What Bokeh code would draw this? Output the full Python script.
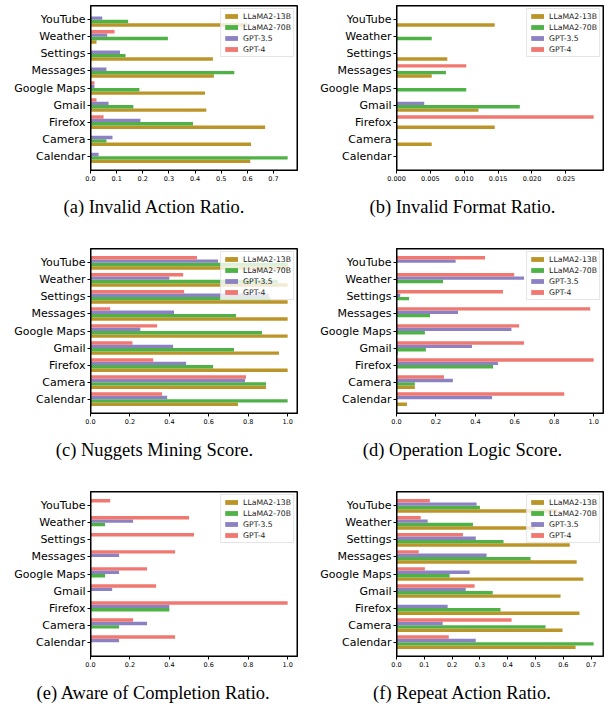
from bokeh.plotting import figure
from bokeh.models import (Range1d, FixedTicker, PrintfTickFormatter,
                          Legend, LegendItem, Title, ColumnDataSource)
from bokeh.layouts import gridplot
from bokeh.embed import file_html
from bokeh.resources import INLINE

apps = ["YouTube", "Weather", "Settings", "Messages", "Google Maps",
        "Gmail", "Firefox", "Camera", "Calendar"]
models = ["LLaMA2-13B", "LLaMA2-70B", "GPT-3.5", "GPT-4"]
colors = ["#BC9528", "#4FB246", "#8A82C2", "#F07870"]

# (a) Invalid Action Ratio
iar_13b = [0.60, 0.023, 0.468, 0.472, 0.438, 0.443, 0.668, 0.614, 0.611]
iar_70b = [0.144, 0.296, 0.134, 0.55, 0.187, 0.164, 0.392, 0.061, 0.754]
iar_g35 = [0.045, 0.064, 0.113, 0.061, 0.015, 0.069, 0.191, 0.084, 0.031]
iar_g4 = [0.0, 0.092, 0.0, 0.0, 0.015, 0.023, 0.05, 0.0, 0.0]

# (b) Invalid Format Ratio
ifr_13b = [0.0145, 0.0, 0.0075, 0.0052, 0.0, 0.0121, 0.0145, 0.0052, 0.0]
ifr_70b = [0.0, 0.0052, 0.0, 0.0073, 0.0103, 0.0182, 0.0, 0.0, 0.0]
ifr_g35 = [0.0, 0.0, 0.0, 0.0, 0.0, 0.0041, 0.0, 0.0, 0.0]
ifr_g4 = [0.0, 0.0, 0.0, 0.0103, 0.0, 0.0, 0.0291, 0.0, 0.0]

# (c) Nuggets Mining Score
nms_13b = [1.0, 1.0, 1.0, 1.0, 1.0, 0.956, 1.0, 0.89, 0.748]
nms_70b = [1.0, 0.95, 0.912, 0.738, 0.87, 0.728, 0.622, 0.89, 1.0]
nms_g35 = [0.647, 0.40, 0.905, 0.424, 0.253, 0.419, 0.485, 0.784, 0.389]
nms_g4 = [0.54, 0.47, 0.475, 0.10, 0.338, 0.213, 0.318, 0.789, 0.363]

# (d) Operation Logic Score
ols_13b = [0.0, 0.0, 0.0, 0.0, 0.0, 0.007, 0.0, 0.093, 0.053]
ols_70b = [0.0, 0.236, 0.064, 0.17, 0.144, 0.149, 0.49, 0.093, 0.0]
ols_g35 = [0.30, 0.647, 0.019, 0.312, 0.583, 0.383, 0.515, 0.286, 0.485]
ols_g4 = [0.449, 0.597, 0.54, 0.983, 0.622, 0.647, 1.0, 0.241, 0.851]

# (e) Aware of Completion Ratio
acr_13b = [0.0, 0.0, 0.0, 0.0, 0.0, 0.0, 0.0, 0.0, 0.0]
acr_70b = [0.0, 0.074, 0.0, 0.0, 0.074, 0.0, 0.4, 0.145, 0.0]
acr_g35 = [0.0, 0.216, 0.0, 0.145, 0.145, 0.11, 0.4, 0.287, 0.145]
acr_g4 = [0.10, 0.50, 0.525, 0.429, 0.287, 0.333, 1.0, 0.216, 0.429]

# (f) Repeat Action Ratio
rar_13b = [0.58, 0.498, 0.623, 0.648, 0.672, 0.59, 0.658, 0.597, 0.644]
rar_70b = [0.30, 0.275, 0.385, 0.482, 0.191, 0.346, 0.374, 0.536, 0.709]
rar_g35 = [0.288, 0.112, 0.285, 0.324, 0.263, 0.249, 0.184, 0.166, 0.285]
rar_g4 = [0.12, 0.087, 0.239, 0.08, 0.102, 0.281, 0.0, 0.414, 0.188]

ticks_a = [0.0, 0.1, 0.2, 0.3, 0.4, 0.5, 0.6, 0.7]
ticks_b = [0.0, 0.005, 0.010, 0.015, 0.020, 0.025]
ticks_c = [0.0, 0.2, 0.4, 0.6, 0.8, 1.0]

offsets = [-0.3, -0.1, 0.1, 0.3]
BAR_H = 0.2
FRAME_W = 207
FRAME_H = 165

# approximate Times/Liberation Serif advance widths (per 1000 em) for centering
_W = {" ": 250, "(": 333, ")": 333, ".": 250, "a": 444, "b": 500, "c": 444,
      "d": 500, "e": 444, "f": 333, "g": 500, "i": 278, "l": 278, "m": 778,
      "n": 500, "o": 500, "p": 500, "r": 333, "s": 389, "t": 278, "u": 500,
      "v": 500, "w": 722, "A": 722, "C": 667, "F": 556, "I": 333, "L": 611,
      "M": 889, "N": 722, "O": 722, "R": 667, "S": 556}
CAP_SIZE = 18.5


def text_width(s, size):
    return sum(_W.get(ch, 500) for ch in s) / 1000.0 * size


def make_panel(caption, series, ticks, fmt, col, last_row):
    n = len(apps)
    pos = [n - 1 - i for i in range(n)]
    vmax = max(max(s) for s in series)
    xend = vmax * 1.05
    lo = -0.3 - BAR_H / 2
    hi = (n - 1) + 0.3 + BAR_H / 2
    margin = 0.05 * (hi - lo)
    ystart, yend = lo - margin, hi + margin
    left_border = 90 if col == 0 else 91
    p = figure(
        y_range=Range1d(ystart, yend),
        x_range=Range1d(0, xend),
        frame_width=FRAME_W, frame_height=FRAME_H,
        min_border_left=left_border, min_border_right=8,
        min_border_top=5, min_border_bottom=(40 if last_row else 73),
        output_backend="svg", toolbar_location=None,
        background_fill_color="white", border_fill_color="white",
        outline_line_color="black", outline_line_width=1, outline_line_alpha=1.0,
    )
    renderers = []
    for vals, off, c in zip(series, offsets, colors):
        src = ColumnDataSource(dict(y=[q + off for q in pos], v=vals, app=apps))
        r = p.hbar(y="y", left=0, right="v", height=BAR_H, source=src,
                   fill_color=c, line_color=None)
        renderers.append(r)

    # frame spines as 1px filled strips just inside the plotting area
    dx = xend / FRAME_W
    dy = (yend - ystart) / FRAME_H
    p.quad(left=[0, 0, 0, xend - dx], right=[xend, xend, dx, xend],
           bottom=[yend - dy, ystart, ystart, ystart],
           top=[yend, ystart + dy, yend, yend],
           fill_color="black", line_color=None)

    p.xgrid.visible = False
    p.ygrid.visible = False

    p.xaxis.ticker = FixedTicker(ticks=ticks)
    p.xaxis.formatter = PrintfTickFormatter(format=fmt)
    p.xaxis.major_label_text_font = "DejaVu Sans"
    p.xaxis.major_label_text_font_size = "6.5px"
    p.xaxis.major_label_text_color = "black"
    p.xaxis.major_label_standoff = 2
    p.yaxis.ticker = FixedTicker(ticks=pos)
    p.yaxis.major_label_overrides = {q: a for q, a in zip(pos, apps)}
    p.yaxis.major_label_text_font = "DejaVu Sans"
    p.yaxis.major_label_text_font_size = "11px"
    p.yaxis.major_label_text_font_style = "normal"
    p.yaxis.major_label_text_color = "black"
    p.yaxis.major_label_standoff = 2
    for ax in (p.xaxis, p.yaxis):
        ax.axis_line_color = "black"
        ax.major_tick_line_color = "black"
        ax.major_tick_out = 3
        ax.major_tick_in = 0
        ax.minor_tick_out = 0
        ax.minor_tick_in = 0

    legend = Legend(
        items=[LegendItem(label=m, renderers=[r]) for m, r in zip(models, renderers)],
        location="top_right",
        label_text_font="DejaVu Sans", label_text_font_size="7.7px",
        label_text_color="#222222",
        glyph_width=16, glyph_height=6, label_height=10, spacing=1,
        padding=2, margin=3, label_standoff=4,
        border_line_color="#cccccc", border_line_width=1,
        background_fill_color="white", background_fill_alpha=0.8,
    )
    p.add_layout(legend)

    center = 154 if col == 0 else 462 - 305
    offset = center - left_border - text_width(caption, CAP_SIZE) / 2.0
    cap = Title(text=caption, align="left", offset=offset,
                vertical_align="top", standoff=26,
                text_font="Liberation Serif", text_font_size="%.1fpx" % CAP_SIZE,
                text_font_style="normal", text_color="black")
    p.add_layout(cap, "below")
    return p


pa = make_panel("(a) Invalid Action Ratio.", [iar_13b, iar_70b, iar_g35, iar_g4],
                ticks_a, "%.1f", 0, False)
pb = make_panel("(b) Invalid Format Ratio.", [ifr_13b, ifr_70b, ifr_g35, ifr_g4],
                ticks_b, "%.3f", 1, False)
pc = make_panel("(c) Nuggets Mining Score.", [nms_13b, nms_70b, nms_g35, nms_g4],
                ticks_c, "%.1f", 0, False)
pd = make_panel("(d) Operation Logic Score.", [ols_13b, ols_70b, ols_g35, ols_g4],
                ticks_c, "%.1f", 1, False)
pe = make_panel("(e) Aware of Completion Ratio.", [acr_13b, acr_70b, acr_g35, acr_g4],
                ticks_c, "%.1f", 0, True)
pf = make_panel("(f) Repeat Action Ratio.", [rar_13b, rar_70b, rar_g35, rar_g4],
                ticks_a, "%.1f", 1, True)

grid = gridplot([[pa, pb], [pc, pd], [pe, pf]], toolbar_location=None)

open("out.html", "w").write(file_html(grid, INLINE))
